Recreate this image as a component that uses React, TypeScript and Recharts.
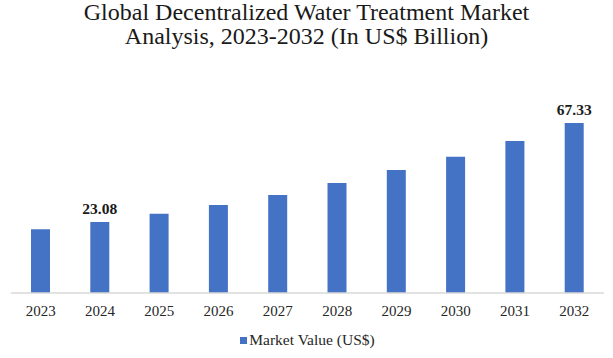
import React from "react";
import { BarChart, Bar, XAxis, YAxis, Legend, LabelList } from "recharts";

const years = ["2023", "2024", "2025", "2026", "2027", "2028", "2029", "2030", "2031", "2032"];
const marketValues = [19.81, 23.08, 26.79, 30.68, 35.15, 40.51, 46.32, 52.27, 59.29, 67.33];
const labelledYears = ["2024", "2032"];
const axisMin = -8.66;
const axisMax = 67.33;
const seriesName = "Market Value (US$)";
const titleLines = [
  "Global Decentralized Water Treatment Market",
  "Analysis, 2023-2032 (In US$ Billion)",
];

const data = years.map((y, i) => ({ year: y, value: marketValues[i], range: [axisMin, marketValues[i]] }));

const FONT = "'Liberation Serif', 'DejaVu Serif', serif";
const BAR_COLOR = "#4472C4";

const renderLabel = (props: any) => {
  const { x, y, width, index } = props;
  if (!labelledYears.includes(years[index])) return null;
  return (
    <text
      x={x + width / 2}
      y={y - 8}
      textAnchor="middle"
      fontFamily={FONT}
      fontSize={15.5}
      fontWeight="bold"
      fill="#1a1a1a"
    >
      {marketValues[index].toFixed(2)}
    </text>
  );
};

const renderLegend = () => (
  <div
    style={{
      height: 24,
      display: "flex",
      alignItems: "center",
      justifyContent: "center",
      fontFamily: FONT,
      fontSize: 15.5,
      color: "#262626",
    }}
  >
    <span style={{ display: "inline-block", width: 7, height: 7, background: BAR_COLOR, marginRight: 2 }} />
    <span>{seriesName}</span>
  </div>
);

export default function App() {
  return (
    <div style={{ position: "absolute", left: 0, top: 0, width: 613, height: 358, background: "#fff" }}>
      <div
        style={{
          position: "absolute",
          left: 0,
          top: 0,
          width: 613,
          textAlign: "center",
          fontFamily: FONT,
          fontSize: 24,
          lineHeight: "24px",
          color: "#1a1a1a",
          zIndex: 1,
        }}
      >
        {titleLines.map((t) => (
          <div key={t}>{t}</div>
        ))}
      </div>
      <BarChart
        width={613}
        height={358}
        data={data}
        margin={{ top: 123, right: 9, bottom: 11, left: 11 }}
        barSize={19}
      >
        <XAxis
          dataKey="year"
          tickLine={false}
          axisLine={{ stroke: "#d9d9d9", strokeWidth: 1.5 }}
          tickMargin={6}
          height={30}
          interval={0}
          tick={{ fontFamily: FONT, fontSize: 15, fill: "#262626" }}
        />
        <YAxis hide domain={[axisMin, axisMax]} allowDataOverflow />
        <Legend verticalAlign="bottom" height={24} wrapperStyle={{ bottom: 6 }} content={renderLegend} />
        <Bar dataKey="range" name={seriesName} fill={BAR_COLOR} isAnimationActive={false}>
          <LabelList dataKey="value" content={renderLabel} />
        </Bar>
      </BarChart>
    </div>
  );
}
